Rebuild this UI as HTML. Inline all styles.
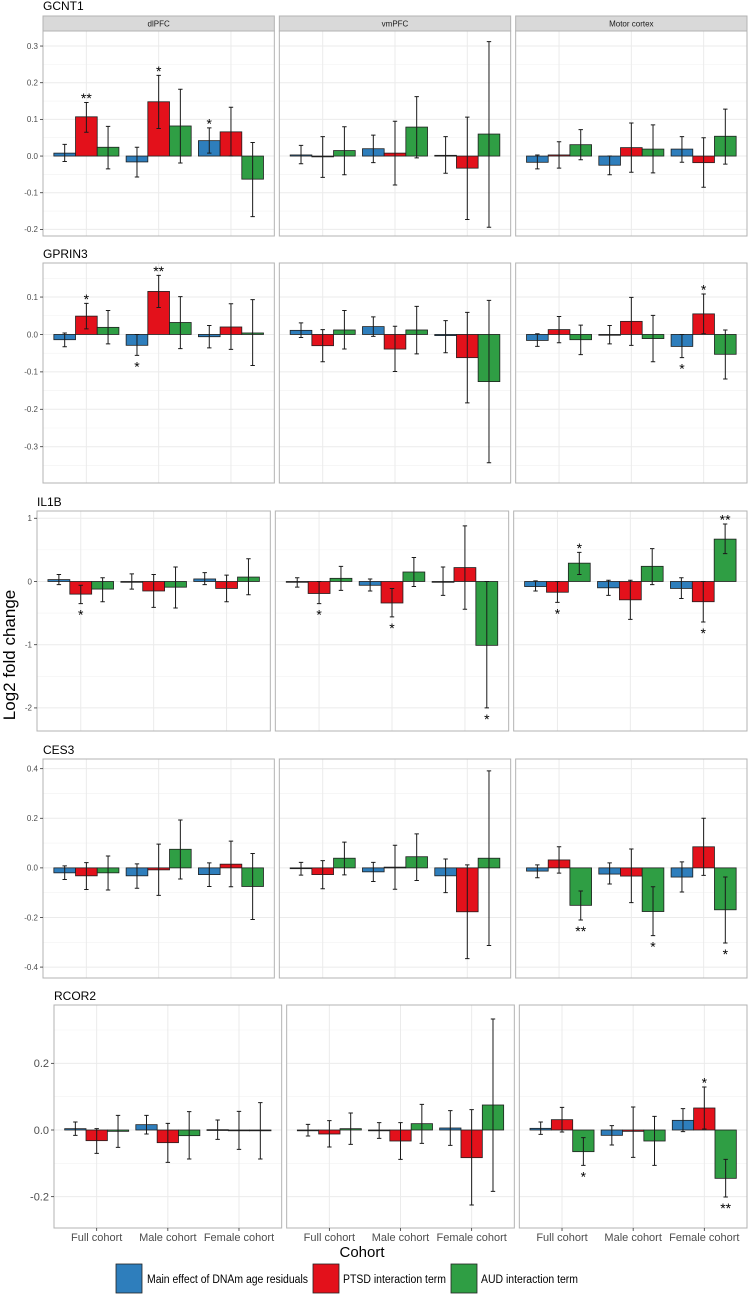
<!DOCTYPE html>
<html><head><meta charset="utf-8"><title>Log2 fold change by cohort</title>
<style>
html,body{margin:0;padding:0;background:#fff;}
svg{display:block;font-family:"Liberation Sans",Arial,sans-serif;}
</style></head>
<body>
<svg id="chart" width="749" height="1296" viewBox="0 0 749 1296" xmlns="http://www.w3.org/2000/svg">
<text x="0" y="0" transform="translate(15,655) rotate(-90)" text-anchor="middle" font-size="17" fill="#000">Log2 fold change</text>
<text x="362" y="1257" text-anchor="middle" font-size="15" fill="#000">Cohort</text>
<g>
<rect x="116" y="1264" width="26" height="29" fill="#2e7ebc" stroke="#222" stroke-width="0.8"/>
<text x="147" y="1283" font-size="11.5" textLength="161" lengthAdjust="spacingAndGlyphs" fill="#000">Main effect of DNAm age residuals</text>
<rect x="313" y="1264" width="26" height="29" fill="#e3111b" stroke="#222" stroke-width="0.8"/>
<text x="343" y="1283" font-size="11.5" textLength="103" lengthAdjust="spacingAndGlyphs" fill="#000">PTSD interaction term</text>
<rect x="451" y="1264" width="26" height="29" fill="#2f9e44" stroke="#222" stroke-width="0.8"/>
<text x="481" y="1283" font-size="11.5" textLength="97" lengthAdjust="spacingAndGlyphs" fill="#000">AUD interaction term</text>
</g>
</svg>
<script>
const cohorts = ["Full cohort", "Male cohort", "Female cohort"];
const regions = ["dlPFC", "vmPFC", "Motor cortex"];
const seriesNames = ["dnam", "ptsd", "aud"];

const GCNT1_est_dnam = [0.008,-0.016,0.042, 0.003,0.020,0.002, -0.017,-0.025,0.019];
const GCNT1_lo_dnam  = [-0.015,-0.057,0.008, -0.021,-0.018,-0.047, -0.035,-0.051,-0.017];
const GCNT1_hi_dnam  = [0.032,0.024,0.077, 0.029,0.057,0.053, 0.003,0.0,0.053];
const GCNT1_sig_dnam = ["","","*", "","","", "","",""];
const GCNT1_est_ptsd = [0.107,0.148,0.066, -0.002,0.008,-0.033, 0.003,0.023,-0.018];
const GCNT1_lo_ptsd  = [0.065,0.075,0.0, -0.058,-0.079,-0.173, -0.033,-0.044,-0.085];
const GCNT1_hi_ptsd  = [0.146,0.22,0.133, 0.053,0.095,0.106, 0.039,0.09,0.05];
const GCNT1_sig_ptsd = ["**","*","", "","","", "","",""];
const GCNT1_est_aud  = [0.024,0.082,-0.063, 0.015,0.079,0.060, 0.031,0.019,0.054];
const GCNT1_lo_aud   = [-0.035,-0.019,-0.165, -0.051,-0.005,-0.194, -0.01,-0.046,-0.022];
const GCNT1_hi_aud   = [0.081,0.182,0.037, 0.080,0.162,0.312, 0.072,0.085,0.128];
const GCNT1_sig_aud  = ["","","", "","","", "","",""];

const GPRIN3_est_dnam = [-0.014,-0.029,-0.006, 0.011,0.021,-0.003, -0.016,0.0,-0.032];
const GPRIN3_lo_dnam  = [-0.033,-0.056,-0.036, -0.008,-0.005,-0.049, -0.032,-0.025,-0.062];
const GPRIN3_hi_dnam  = [0.004,0.0,0.024, 0.031,0.047,0.037, 0.002,0.024,0.0];
const GPRIN3_sig_dnam = ["","*","", "","","", "","","*"];
const GPRIN3_est_ptsd = [0.049,0.115,0.02, -0.03,-0.039,-0.062, 0.013,0.035,0.055];
const GPRIN3_lo_ptsd  = [0.015,0.072,-0.04, -0.073,-0.099,-0.183, -0.022,-0.029,0.002];
const GPRIN3_hi_ptsd  = [0.083,0.158,0.082, 0.013,0.022,0.059, 0.048,0.099,0.108];
const GPRIN3_sig_ptsd = ["*","**","", "","","", "","","*"];
const GPRIN3_est_aud  = [0.019,0.032,0.004, 0.012,0.012,-0.126, -0.014,-0.011,-0.053];
const GPRIN3_lo_aud   = [-0.025,-0.038,-0.083, -0.039,-0.052,-0.343, -0.054,-0.073,-0.119];
const GPRIN3_hi_aud   = [0.064,0.101,0.093, 0.064,0.075,0.091, 0.025,0.051,0.012];
const GPRIN3_sig_aud  = ["","","", "","","", "","",""];

const IL1B_est_dnam = [0.03,0.0,0.04, 0.0,-0.06,0.0, -0.08,-0.1,-0.11];
const IL1B_lo_dnam  = [-0.05,-0.12,-0.05, -0.09,-0.15,-0.22, -0.15,-0.22,-0.27];
const IL1B_hi_dnam  = [0.11,0.12,0.14, 0.06,0.04,0.23, 0.01,0.02,0.06];
const IL1B_sig_dnam = ["","","", "","","", "","",""];
const IL1B_est_ptsd = [-0.2,-0.15,-0.11, -0.19,-0.34,0.22, -0.17,-0.29,-0.32];
const IL1B_lo_ptsd  = [-0.35,-0.41,-0.32, -0.35,-0.56,-0.44, -0.33,-0.6,-0.64];
const IL1B_hi_ptsd  = [-0.06,0.11,0.1, 0.0,-0.11,0.88, 0.0,0.02,0.0];
const IL1B_sig_ptsd = ["*","","", "*","*","", "*","","*"];
const IL1B_est_aud  = [-0.12,-0.09,0.07, 0.05,0.15,-1.01, 0.29,0.24,0.67];
const IL1B_lo_aud   = [-0.32,-0.42,-0.21, -0.14,-0.08,-2.0, 0.11,-0.05,0.44];
const IL1B_hi_aud   = [0.06,0.23,0.36, 0.24,0.38,0.0, 0.46,0.52,0.91];
const IL1B_sig_aud  = ["","","", "","","*", "*","","**"];

const CES3_est_dnam = [-0.02,-0.032,-0.027, 0.0,-0.016,-0.032, -0.013,-0.025,-0.037];
const CES3_lo_dnam  = [-0.047,-0.082,-0.075, -0.029,-0.055,-0.1, -0.04,-0.065,-0.097];
const CES3_hi_dnam  = [0.008,0.016,0.02, 0.022,0.022,0.036, 0.012,0.02,0.024];
const CES3_sig_dnam = ["","","", "","","", "","",""];
const CES3_est_ptsd = [-0.032,-0.008,0.015, -0.027,0.003,-0.177, 0.032,-0.033,0.085];
const CES3_lo_ptsd  = [-0.087,-0.111,-0.076, -0.084,-0.086,-0.366, -0.021,-0.14,-0.03];
const CES3_hi_ptsd  = [0.021,0.096,0.108, 0.029,0.091,0.012, 0.085,0.076,0.2];
const CES3_sig_ptsd = ["","","", "","","", "","",""];
const CES3_est_aud  = [-0.02,0.075,-0.075, 0.039,0.045,0.039, -0.151,-0.176,-0.169];
const CES3_lo_aud   = [-0.089,-0.045,-0.208, -0.028,-0.051,-0.313, -0.21,-0.273,-0.303];
const CES3_hi_aud   = [0.048,0.193,0.058, 0.104,0.137,0.391, -0.093,-0.076,-0.037];
const CES3_sig_aud  = ["","","", "","","", "**","*","*"];

const RCOR2_est_dnam = [0.004,0.016,0.001, 0.0,0.0,0.006, 0.005,-0.016,0.029];
const RCOR2_lo_dnam  = [-0.016,-0.012,-0.028, -0.018,-0.025,-0.046, -0.013,-0.045,-0.005];
const RCOR2_hi_dnam  = [0.024,0.044,0.03, 0.017,0.022,0.058, 0.024,0.013,0.064];
const RCOR2_sig_dnam = ["","","", "","","", "","",""];
const RCOR2_est_ptsd = [-0.032,-0.038,-0.001, -0.012,-0.033,-0.083, 0.031,-0.004,0.066];
const RCOR2_lo_ptsd  = [-0.07,-0.097,-0.058, -0.051,-0.088,-0.225, -0.006,-0.082,0.003];
const RCOR2_hi_ptsd  = [0.004,0.02,0.056, 0.028,0.022,0.061, 0.068,0.069,0.129];
const RCOR2_sig_ptsd = ["","","", "","","", "","","*"];
const RCOR2_est_aud  = [-0.004,-0.017,-0.002, 0.004,0.019,0.075, -0.065,-0.033,-0.145];
const RCOR2_lo_aud   = [-0.052,-0.087,-0.087, -0.043,-0.04,-0.184, -0.106,-0.106,-0.201];
const RCOR2_hi_aud   = [0.044,0.055,0.082, 0.051,0.077,0.333, -0.023,0.041,-0.088];
const RCOR2_sig_aud  = ["","","", "","","", "*","","**"];

const genes = ["GCNT1", "GPRIN3", "IL1B", "CES3", "RCOR2"];
const GCNT1_ticks  = [0.3, 0.2, 0.1, 0.0, -0.1, -0.2];
const GCNT1_tickLabels = ["0.3", "0.2", "0.1", "0.0", "-0.1", "-0.2"];
const GPRIN3_ticks = [0.1, 0.0, -0.1, -0.2, -0.3];
const GPRIN3_tickLabels = ["0.1", "0.0", "-0.1", "-0.2", "-0.3"];
const IL1B_ticks   = [1, 0, -1, -2];
const IL1B_tickLabels = ["1", "0", "-1", "-2"];
const CES3_ticks   = [0.4, 0.2, 0.0, -0.2, -0.4];
const CES3_tickLabels = ["0.4", "0.2", "0.0", "-0.2", "-0.4"];
const RCOR2_ticks  = [0.2, 0.0, -0.2];
const RCOR2_tickLabels = ["0.2", "0.0", "-0.2"];
const GCNT1_domain  = [-0.218, 0.341];
const GPRIN3_domain = [-0.397, 0.191];
const IL1B_domain   = [-2.365, 1.115];
const CES3_domain   = [-0.444, 0.439];
const RCOR2_domain  = [-0.294, 0.375];

const D = {
  GCNT1:{est:[GCNT1_est_dnam,GCNT1_est_ptsd,GCNT1_est_aud],lo:[GCNT1_lo_dnam,GCNT1_lo_ptsd,GCNT1_lo_aud],hi:[GCNT1_hi_dnam,GCNT1_hi_ptsd,GCNT1_hi_aud],sig:[GCNT1_sig_dnam,GCNT1_sig_ptsd,GCNT1_sig_aud],ticks:GCNT1_ticks,tl:GCNT1_tickLabels,dom:GCNT1_domain},
  GPRIN3:{est:[GPRIN3_est_dnam,GPRIN3_est_ptsd,GPRIN3_est_aud],lo:[GPRIN3_lo_dnam,GPRIN3_lo_ptsd,GPRIN3_lo_aud],hi:[GPRIN3_hi_dnam,GPRIN3_hi_ptsd,GPRIN3_hi_aud],sig:[GPRIN3_sig_dnam,GPRIN3_sig_ptsd,GPRIN3_sig_aud],ticks:GPRIN3_ticks,tl:GPRIN3_tickLabels,dom:GPRIN3_domain},
  IL1B:{est:[IL1B_est_dnam,IL1B_est_ptsd,IL1B_est_aud],lo:[IL1B_lo_dnam,IL1B_lo_ptsd,IL1B_lo_aud],hi:[IL1B_hi_dnam,IL1B_hi_ptsd,IL1B_hi_aud],sig:[IL1B_sig_dnam,IL1B_sig_ptsd,IL1B_sig_aud],ticks:IL1B_ticks,tl:IL1B_tickLabels,dom:IL1B_domain},
  CES3:{est:[CES3_est_dnam,CES3_est_ptsd,CES3_est_aud],lo:[CES3_lo_dnam,CES3_lo_ptsd,CES3_lo_aud],hi:[CES3_hi_dnam,CES3_hi_ptsd,CES3_hi_aud],sig:[CES3_sig_dnam,CES3_sig_ptsd,CES3_sig_aud],ticks:CES3_ticks,tl:CES3_tickLabels,dom:CES3_domain},
  RCOR2:{est:[RCOR2_est_dnam,RCOR2_est_ptsd,RCOR2_est_aud],lo:[RCOR2_lo_dnam,RCOR2_lo_ptsd,RCOR2_lo_aud],hi:[RCOR2_hi_dnam,RCOR2_hi_ptsd,RCOR2_hi_aud],sig:[RCOR2_sig_dnam,RCOR2_sig_ptsd,RCOR2_sig_aud],ticks:RCOR2_ticks,tl:RCOR2_tickLabels,dom:RCOR2_domain}
};

const layout = {
  GCNT1:{x0:43,top:31,bottom:236,title:10,strip:true,fs:8},
  GPRIN3:{x0:43,top:263,bottom:483,title:258,strip:false,fs:8},
  IL1B:{x0:37,top:511,bottom:731,title:506,strip:false,fs:8},
  CES3:{x0:43,top:759,bottom:978,title:754,strip:false,fs:8},
  RCOR2:{x0:54,top:1005,bottom:1228,title:1000,strip:false,fs:11}
};
const colors = ["#2e7ebc", "#e3111b", "#2f9e44"];
const NS = "http://www.w3.org/2000/svg";
const svg = document.getElementById("chart");
function mk(tag, attrs, parent){
  const e = document.createElementNS(NS, tag);
  for (const k in attrs) e.setAttribute(k, attrs[k]);
  (parent||svg).appendChild(e);
  return e;
}
const RIGHT = 747, GAP = 5;

genes.forEach(function(g){
  const d = D[g], L = layout[g];
  const pw = (RIGHT - L.x0 - 2*GAP)/3;
  const gg = mk("g", {});
  
  
  const t = mk("text", {x:L.x0, y:L.title, "font-size":12, fill:"#000"}, gg);
  t.textContent = g;
  
  
  const yS = v => L.bottom - (v - d.dom[0]) / (d.dom[1] - d.dom[0]) * (L.bottom - L.top);
  for (let r = 0; r < 3; r++){
    const px = L.x0 + r*(pw + GAP);
    const unit = pw / 3.2;
    const xS = c => px + (0.6 + c) * unit;
    const pg = mk("g", {}, gg);
    
    
    mk("rect", {x:px, y:L.top, width:pw, height:L.bottom-L.top, fill:"#fff"}, pg);
    for (let i = 0; i < d.ticks.length + 1; i++){
      const step = d.ticks.length > 1 ? d.ticks[0] - d.ticks[1] : 0.1;
      const mv = d.ticks[0] + step/2 - i*step;
      const y = yS(mv);
      if (y > L.top && y < L.bottom) mk("line", {x1:px, x2:px+pw, y1:y, y2:y, stroke:"#f2f2f2", "stroke-width":0.6}, pg);
    }
    d.ticks.forEach(function(tv){
      const y = yS(tv);
      mk("line", {x1:px, x2:px+pw, y1:y, y2:y, stroke:"#ebebeb", "stroke-width":1}, pg);
    });
    cohorts.forEach(function(c, ci){
      mk("line", {x1:xS(ci), x2:xS(ci), y1:L.top, y2:L.bottom, stroke:"#ebebeb", "stroke-width":1}, pg);
    });
    mk("rect", {x:px, y:L.top, width:pw, height:L.bottom-L.top, fill:"none", stroke:"#b3b3b3", "stroke-width":1}, pg);
    if (L.strip){
      const sr = mk("rect", {x:px, y:16, width:pw, height:15, fill:"#d9d9d9", stroke:"#b3b3b3", "stroke-width":1}, pg);
      
      
      const st = mk("text", {x:px+pw/2, y:26.5, "text-anchor":"middle", "font-size":8, fill:"#1a1a1a"}, pg);
      st.textContent = regions[r];
      
      
    }
    if (r === 0){
      d.ticks.forEach(function(tv, ti){
        const y = yS(tv);
        mk("line", {x1:px-3, x2:px, y1:y, y2:y, stroke:"#333", "stroke-width":0.8}, pg);
        const tl = mk("text", {x:px-5, y:y + L.fs*0.35, "text-anchor":"end", "font-size":L.fs, fill:"#4d4d4d"}, pg);
        tl.textContent = d.tl[ti];
        
        
      });
    }
    if (g === "RCOR2"){
      cohorts.forEach(function(c, ci){
        mk("line", {x1:xS(ci), x2:xS(ci), y1:L.bottom, y2:L.bottom+3, stroke:"#333", "stroke-width":0.8}, pg);
        const xl = mk("text", {x:xS(ci), y:L.bottom+13, "text-anchor":"middle", "font-size":11, fill:"#4d4d4d"}, pg);
        xl.textContent = c;
        
        
      });
    }
    const bw = 0.9 * unit / 3;
    const y0 = yS(0);
    for (let ci = 0; ci < 3; ci++){
      for (let s = 0; s < 3; s++){
        const idx = r*3 + ci;
        const v = d.est[s][idx];
        const cx = xS(ci) + (s - 1) * bw;
        const yv = yS(v);
        const bar = mk("rect", {x:cx - bw/2, y:Math.min(yv, y0), width:bw, height:Math.max(Math.abs(yv - y0), 0.8), fill:colors[s], stroke:"#1f1f1f", "stroke-width":0.8}, pg);
        
        
        const yl = yS(d.lo[s][idx]), yh = yS(d.hi[s][idx]);
        const eb = mk("path", {d:"M"+cx+","+yh+"V"+yl+"M"+(cx-2.2)+","+yh+"H"+(cx+2.2)+"M"+(cx-2.2)+","+yl+"H"+(cx+2.2), stroke:"#1a1a1a", "stroke-width":1, fill:"none"}, pg);
        
        
        const sg = d.sig[s][idx];
        if (sg){
          const sy = v >= 0 ? yh + 0.5 : yl + 16;
          const stx = mk("text", {x:cx, y:sy, "text-anchor":"middle", "font-size":14, fill:"#000"}, pg);
          stx.textContent = sg;
          
          
        }
      }
    }
  }
});
</script>
</body></html>
